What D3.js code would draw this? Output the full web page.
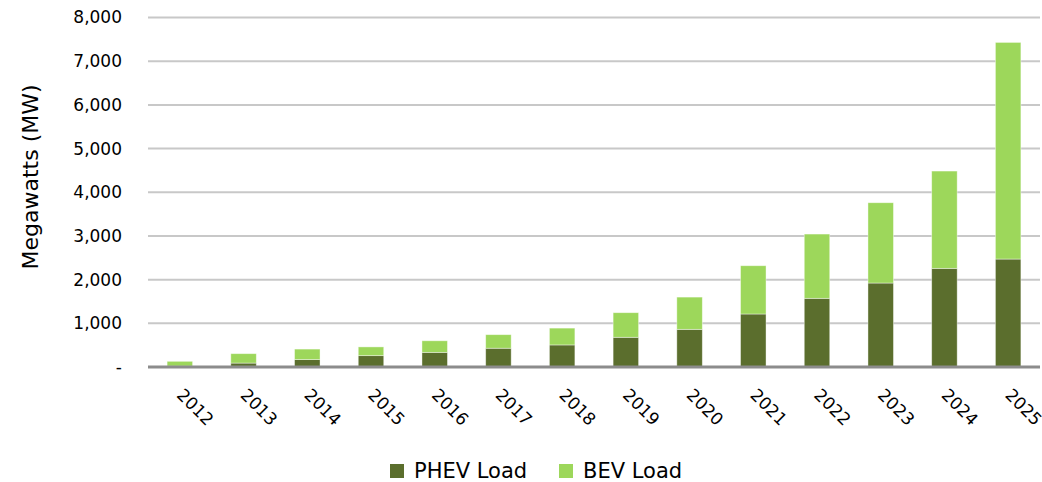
<!DOCTYPE html>
<html>
<head>
<meta charset="utf-8">
<script src="https://cdn.jsdelivr.net/npm/d3@7"></script>
<style>
  body { margin: 0; background: #fff; }
  text { font-family: "DejaVu Sans", sans-serif; fill: #000; }
</style>
</head>
<body>
<svg id="chart" width="1042" height="482"></svg>
<script>
const years = ["2012", "2013", "2014", "2015", "2016", "2017", "2018",
  "2019", "2020", "2021", "2022", "2023", "2024", "2025"];
const phevLoad = [20, 90, 170, 260, 335, 430, 505, 680, 862, 1213, 1572, 1922, 2258, 2471];
const bevLoad = [110, 215, 240, 200, 265, 310, 385, 563, 738, 1105, 1471, 1838, 2227, 4959];
const yTicks = [0, 1000, 2000, 3000, 4000, 5000, 6000, 7000, 8000];

const svg = d3.select("#chart");
const plotLeft = 148, plotRight = 1040, plotTop = 17.5, plotBottom = 367;

const x = d3.scaleBand().domain(years).range([plotLeft, plotRight]).paddingInner(0.6).paddingOuter(0.3);
const y = d3.scaleLinear().domain([0, 8000]).range([plotBottom, plotTop]);

// gridlines
svg.append("g").selectAll("line")
  .data(yTicks.filter(d => d > 0))
  .join("line")
  .attr("x1", plotLeft).attr("x2", plotRight)
  .attr("y1", d => y(d)).attr("y2", d => y(d))
  .attr("stroke", "#c8c8c8")
  .attr("stroke-width", 2);

// y tick labels
const fmt = d3.format(",");
svg.append("g").selectAll("text")
  .data(yTicks)
  .join("text")
  .attr("x", 122)
  .attr("y", d => y(d))
  .attr("dy", "0.35em")
  .attr("text-anchor", "end")
  .style("font-size", "17px")
  .text(d => d === 0 ? "-" : fmt(d));

// stacked bars
const rows = years.map((yr, i) => ({ year: yr, phev: phevLoad[i], bev: bevLoad[i] }));
const stack = d3.stack().keys(["phev", "bev"])(rows);
const colors = { phev: "#5b6e2d", bev: "#9dd75b" };

svg.append("g").selectAll("g")
  .data(stack)
  .join("g")
  .attr("fill", s => colors[s.key])
  .selectAll("rect")
  .data(s => s)
  .join("rect")
  .attr("x", d => x(d.data.year))
  .attr("width", x.bandwidth())
  .attr("y", d => y(d[1]))
  .attr("height", d => y(d[0]) - y(d[1]))
  .attr("stroke", "#ffffff")
  .attr("stroke-opacity", 0.5)
  .attr("stroke-width", 0.8);

// baseline
svg.append("line")
  .attr("x1", plotLeft).attr("x2", plotRight)
  .attr("y1", plotBottom).attr("y2", plotBottom)
  .attr("stroke", "#8c8c8c")
  .attr("stroke-width", 3);

// x labels
svg.append("g").selectAll("text")
  .data(years)
  .join("text")
  .attr("transform", d => `translate(${x(d) + x.bandwidth() / 2 - 4},${plotBottom + 29}) rotate(45)`)
  .style("font-size", "17px")
  .text(d => d);

// y axis title
svg.append("text")
  .attr("transform", "translate(38,177) rotate(-90)")
  .attr("text-anchor", "middle")
  .style("font-size", "22px")
  .text("Megawatts (MW)");

// legend
const legend = [
  { label: "PHEV Load", color: colors.phev, x: 390 },
  { label: "BEV Load", color: colors.bev, x: 559 }
];
const lg = svg.append("g").selectAll("g")
  .data(legend)
  .join("g")
  .attr("transform", d => `translate(${d.x},464)`);
lg.append("rect").attr("width", 14).attr("height", 14).attr("fill", d => d.color);
lg.append("text")
  .attr("x", 24).attr("y", 14)
  .style("font-size", "21px")
  .text(d => d.label);
</script>
</body>
</html>
